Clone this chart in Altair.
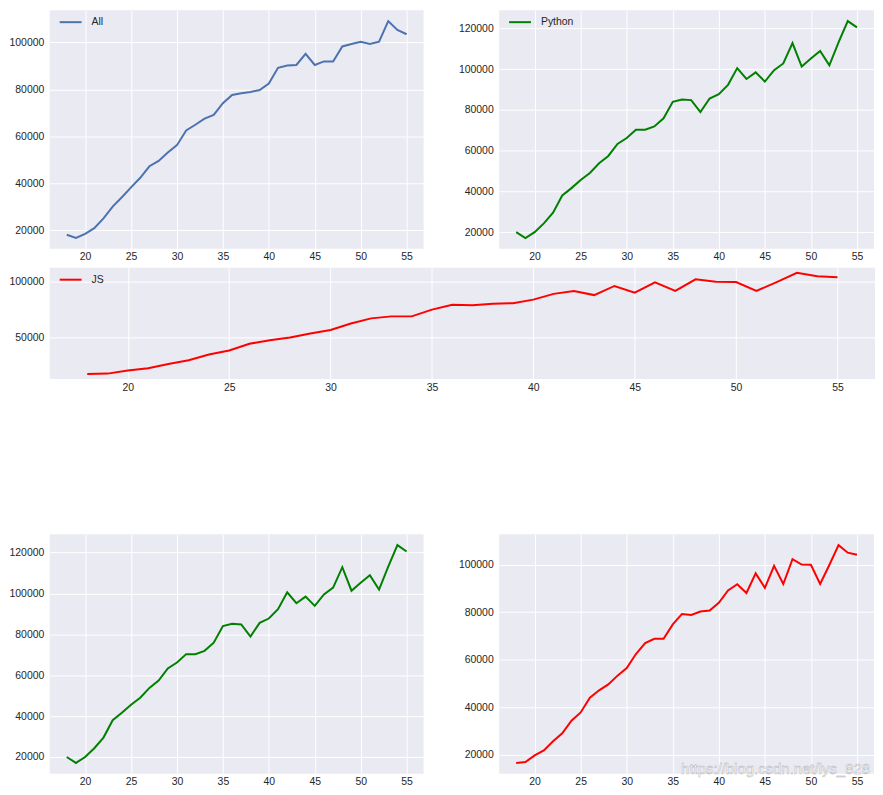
import altair as alt
import pandas as pd

ages = list(range(18, 56))

all_vals = [18000, 16600, 18400, 20800, 25000, 30000, 34000, 38200, 42300, 47200,
            49500, 53100, 56200, 62500, 64900, 67500, 69100, 74100, 77600, 78300,
            78900, 79700, 82500, 89200, 90200, 90400, 95100, 90400, 91900, 91900,
            98300, 99300, 100300, 99300, 100300, 109100, 105300, 103500]

python_vals = [20000, 17100, 20000, 24300, 29500, 38000, 41600, 45600, 49000, 53800,
               57400, 63300, 66200, 70300, 70300, 71900, 75900, 84000, 85100, 84800,
               78900, 85600, 87700, 92300, 100500, 95200, 98400, 93900, 99500, 102800,
               112800, 101300, 105200, 108900, 101900, 113100, 123600, 120500]

js_vals = [16500, 16900, 19700, 21800, 25600, 29000, 34300, 37800, 44000, 47100,
           49600, 53300, 56500, 62400, 67000, 68800, 68800, 74900, 79300, 78900,
           80300, 80700, 84000, 89200, 91800, 88100, 96400, 90300, 99600, 91900,
           102400, 100100, 100000, 91900, 99900, 108300, 105100, 104200]

x_ticks = [20, 25, 30, 35, 40, 45, 50, 55]
y_ticks_20k = [20000, 40000, 60000, 80000, 100000]
y_ticks_py = [20000, 40000, 60000, 80000, 100000, 120000]
y_ticks_js_mid = [50000, 100000]

FONT = "Liberation Sans"
BG = "#EAEAF2"
TXT = "#262626"


def margin_domain(vals):
    lo, hi = min(vals), max(vals)
    m = (hi - lo) * 0.05
    return [lo - m, hi + m]


x_dom = margin_domain(ages)


def panel(vals, name, color, width, height, yticks, legend=True, watermark=False):
    df = pd.DataFrame({"age": ages, "value": vals, "series": name})
    if legend:
        leg = alt.Legend(title=None, orient="none", legendX=9, legendY=0,
                         symbolType="stroke", symbolSize=484, symbolStrokeWidth=2,
                         labelFont=FONT, labelFontSize=10.5, labelColor=TXT,
                         labelOffset=9, padding=0)
    color_enc = alt.Color("series:N",
                          scale=alt.Scale(domain=[name], range=[color]),
                          legend=leg if legend else None)
    line = alt.Chart(df).mark_line(strokeWidth=2).encode(
        x=alt.X("age:Q", scale=alt.Scale(domain=x_dom, nice=False, zero=False),
                axis=alt.Axis(values=x_ticks, title=None, labelPadding=3)),
        y=alt.Y("value:Q", scale=alt.Scale(domain=margin_domain(vals), nice=False, zero=False),
                axis=alt.Axis(values=yticks, title=None, labelPadding=6, format="d")),
        color=color_enc,
    )
    ch = line
    if watermark:
        wm = alt.Chart(pd.DataFrame({"t": ["https://blog.csdn.net/lys_828"]})).mark_text(
            align="right", baseline="middle", font=FONT, fontSize=15,
            fill="#ffffff", stroke="#a0a0a0", strokeWidth=0.4, opacity=0.85
        ).encode(text="t:N", x=alt.value(width - 4), y=alt.value(height - 5))
        ch = alt.layer(line, wm)
    return ch.properties(width=width, height=height)


top_left = panel(all_vals, "All", "#4C72B0", 376, 240, y_ticks_20k)
top_right = panel(python_vals, "Python", "#008000", 377, 240, y_ticks_py)
middle = panel(js_vals, "JS", "#FF0000", 830, 112, y_ticks_js_mid)
bot_left = panel(python_vals, "Python", "#008000", 376, 241, y_ticks_py, legend=False)
bot_right = panel(js_vals, "JS", "#FF0000", 377, 241, y_ticks_20k, legend=False, watermark=True)

top_row = alt.hconcat(top_left, top_right, spacing=34).resolve_scale(color="independent")
bot_row = alt.hconcat(bot_left, bot_right, spacing=34).resolve_scale(color="independent")

upper = alt.vconcat(top_row, middle, spacing=5).resolve_scale(color="independent")
chart = alt.vconcat(upper, bot_row, spacing=142).resolve_scale(color="independent").properties(
    padding=0, background="white"
).configure_view(fill=BG, stroke=None).configure_axis(
    grid=True, gridColor="white", gridWidth=1, domain=False, ticks=False, tickSize=0,
    labelFont=FONT, labelFontSize=10.5, labelColor=TXT
)

chart.save("out.html", embed_options={"renderer": "svg", "actions": False})
